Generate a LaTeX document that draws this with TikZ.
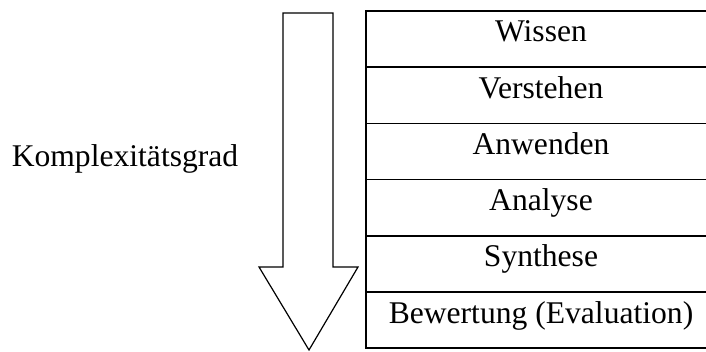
\documentclass[tikz,border=0pt]{standalone}
\usepackage{fontspec}
\setmainfont{Liberation Serif}
\usetikzlibrary{positioning}

\tikzset{
  level/.style={draw,line width=0.75pt,inner sep=0pt,outer sep=0pt,
    minimum width=175pt,text height=15.5pt,text depth=12.6pt},
  every node/.style={font=\fontsize{15.8}{19}\selectfont}
}

\begin{document}
\begin{tikzpicture}[x=0.5pt,y=-0.5pt,node distance=0pt]
        \useasboundingbox (0,0) rectangle (706,352);
        \clip (0,0) rectangle (706,352);
        % arrow
        \draw[line width=0.6pt,line join=miter] (283,13)--(333,13)--(333,267)--(358,267)
        --(309,350)--(259,267)--(283,267)--cycle;
        \node[anchor=base] (grad) at (125,167) {Komplexitätsgrad};
        % levels
        \node[level,anchor=north west] (wissen) at (366,11) {Wissen};
        \node[level,below=of wissen] (verstehen) {Verstehen};
        \node[level,below=of verstehen] (anwenden) {Anwenden};
        \node[level,below=of anwenden] (analyse) {Analyse};
        \node[level,below=of analyse] (synthese) {Synthese};
        \node[level,below=of synthese] (bewertung) {Bewertung (Evaluation)};
      \end{tikzpicture}
\end{document}
